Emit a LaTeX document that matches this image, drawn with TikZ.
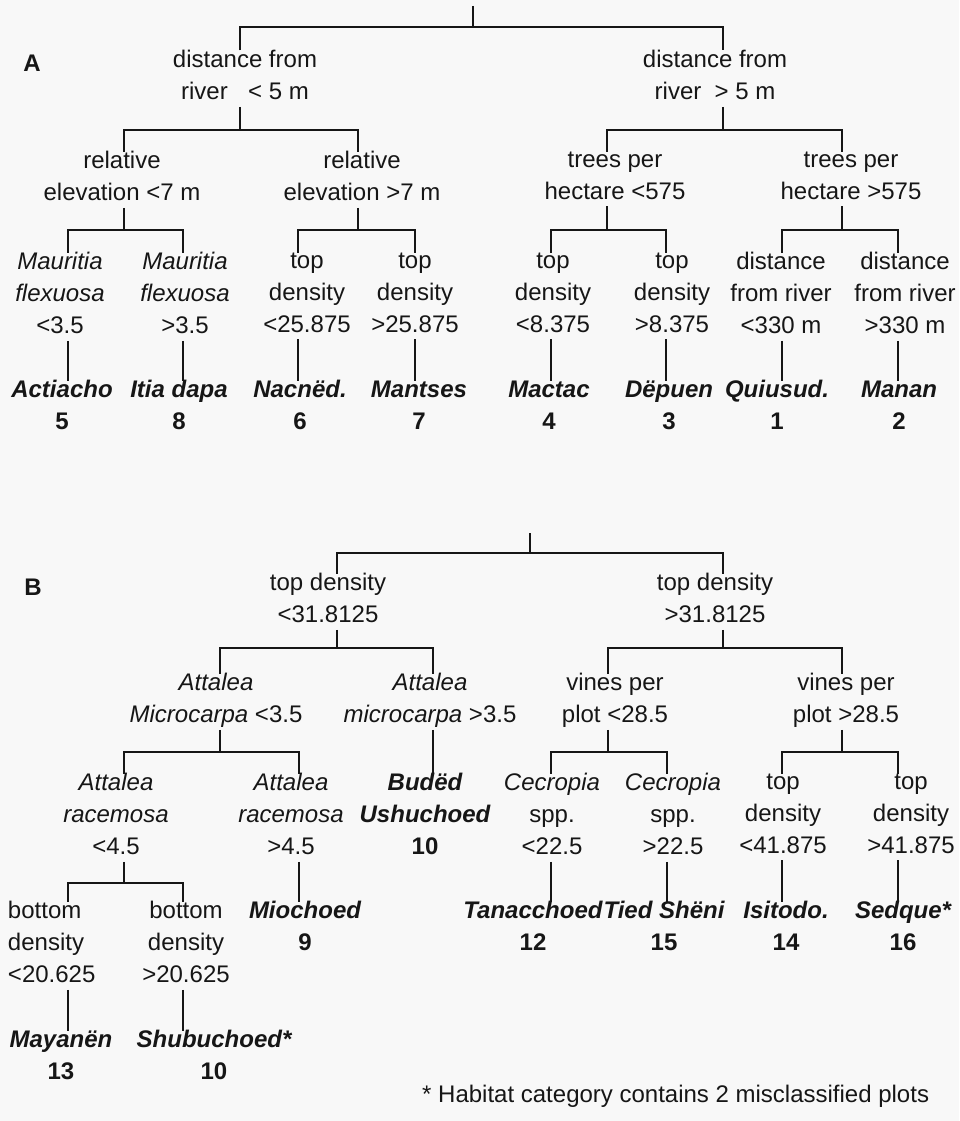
\documentclass[tikz,border=0pt]{standalone}
\usepackage{fontspec}
\setmainfont{Liberation Sans}
\definecolor{ink}{RGB}{22,22,22}
\definecolor{paper}{RGB}{248,248,248}
\newcommand\tstrut{\rule[-7pt]{0pt}{28.5pt}}
\begin{document}
\begin{tikzpicture}[x=1pt,y=-1pt,
  lab/.style={font=\fontsize{24}{32}\selectfont, text=ink, inner sep=0pt, outer sep=0pt,
    align=center, anchor=north, yshift=21.5pt,
    execute at begin node=\tstrut, execute at end node=\tstrut},
  leaf/.style={lab, font=\fontsize{24}{32}\selectfont\bfseries\itshape},
  panel/.style={lab, font=\fontsize{24}{32}\selectfont\bfseries},
  note/.style={font=\fontsize{24}{32}\selectfont, text=ink, inner sep=0pt, anchor=base west},
  wire/.style={draw=ink, line width=1.6pt},
]
\fill[paper] (0,0) rectangle (959,1121);
\useasboundingbox (0,0) rectangle (959,1121);

% ================= Tree A =================
\node[panel] (labA) at (32,72) {A};
\coordinate (rA) at (473,6);
\coordinate (jA) at (473,27);
\node[lab] (A1) at (245,72) {distance from\\river\hspace{0.85em}< 5 m};
\node[lab] (A2) at (715,72) {distance from\\river\hspace{0.55em}> 5 m};
\draw[wire] (rA) -- (jA);
\draw[wire] ([xshift=-5pt]A1.north) |- (jA) -| ([xshift=8pt]A2.north);

\coordinate (jA1) at (240,130);
\node[lab] (A11) at (122,173) {relative\\elevation <7 m};
\node[lab] (A12) at (362,173) {relative\\elevation >7 m};
\draw[wire] (A1.south -| jA1) -- (jA1);
\draw[wire] ([xshift=2pt]A11.north) |- (jA1) -| ([xshift=-4pt]A12.north);

\coordinate (jA2) at (723,130);
\node[lab] (A21) at (615,173) {trees per\\hectare <575};
\node[lab] (A22) at (851,173) {trees per\\hectare >575};
\draw[wire] (A2.south -| jA2) -- (jA2);
\draw[wire] ([xshift=-8pt]A21.north) |- (jA2) -| ([xshift=-9pt]A22.north);

\coordinate (jA11) at (124,230);
\node[lab] (A111) at (60,274) {{\itshape Mauritia}\\{\itshape flexuosa}\\<3.5};
\node[lab] (A112) at (185,274) {{\itshape Mauritia}\\{\itshape flexuosa}\\>3.5};
\draw[wire] (A11.south -| jA11) -- (jA11);
\draw[wire] ([xshift=8pt]A111.north) |- (jA11) -| ([xshift=-2pt]A112.north);

\coordinate (jA12) at (358,230);
\node[lab] (A121) at (307,274) {top\\density\\<25.875};
\node[lab] (A122) at (415,274) {top\\density\\>25.875};
\draw[wire] (A12.south -| jA12) -- (jA12);
\draw[wire] ([xshift=-9pt]A121.north) |- (jA12) -| (A122.north);

\coordinate (jA21) at (607,230);
\node[lab] (A211) at (553,274) {top\\density\\<8.375};
\node[lab] (A212) at (672,274) {top\\density\\>8.375};
\draw[wire] (A21.south -| jA21) -- (jA21);
\draw[wire] ([xshift=-2pt]A211.north) |- (jA21) -| ([xshift=-6pt]A212.north);

\coordinate (jA22) at (842,230);
\node[lab] (A221) at (781,274) {distance\\from river\\<330 m};
\node[lab] (A222) at (905,274) {distance\\from river\\>330 m};
\draw[wire] (A22.south -| jA22) -- (jA22);
\draw[wire] ([xshift=1pt]A221.north) |- (jA22) -| ([xshift=-7pt]A222.north);

% leaves A
\node[leaf] (L5) at (62,402) {Actiacho\\{\upshape 5}};
\node[leaf] (L8) at (179,402) {Itia dapa\\{\upshape 8}};
\node[leaf] (L6) at (300,402) {Nacnëd.\\{\upshape 6}};
\node[leaf] (L7) at (419,402) {Mantses\\{\upshape 7}};
\node[leaf] (L4) at (549,402) {Mactac\\{\upshape 4}};
\node[leaf] (L3) at (669,402) {Dëpuen\\{\upshape 3}};
\node[leaf] (L1) at (777,402) {Quiusud.\\{\upshape 1}};
\node[leaf] (L2) at (899,402) {Manan\\{\upshape 2}};
\draw[wire] ([xshift=8pt]A111.south) -- ([xshift=6pt]L5.north);
\draw[wire] ([xshift=-2pt]A112.south) -- ([xshift=4pt]L8.north);
\draw[wire] ([xshift=-9pt]A121.south) -- ([xshift=-2pt]L6.north);
\draw[wire] (A122.south) -- ([xshift=-4pt]L7.north);
\draw[wire] ([xshift=-2pt]A211.south) -- ([xshift=2pt]L4.north);
\draw[wire] ([xshift=-6pt]A212.south) -- ([xshift=-3pt]L3.north);
\draw[wire] ([xshift=1pt]A221.south) -- ([xshift=5pt]L1.north);
\draw[wire] ([xshift=-7pt]A222.south) -- ([xshift=-1pt]L2.north);

% ================= Tree B =================
\node[panel] (labB) at (33,595) {B};
\coordinate (rB) at (530,533);
\coordinate (jB) at (530,553);
\node[lab] (B1) at (328,595) {top density\\<31.8125};
\node[lab] (B2) at (715,595) {top density\\>31.8125};
\draw[wire] (rB) -- (jB);
\draw[wire] ([xshift=9pt]B1.north) |- (jB) -| ([xshift=8pt]B2.north);

\coordinate (jB1) at (337,648);
\node[lab] (B11) at (216,695) {{\itshape Attalea}\\{\itshape Microcarpa} <3.5};
\node[lab] (B12) at (430,695) {{\itshape Attalea}\\{\itshape microcarpa} >3.5};
\draw[wire] (B1.south -| jB1) -- (jB1);
\draw[wire] ([xshift=4pt]B11.north) |- (jB1) -| ([xshift=3pt]B12.north);

\coordinate (jB2) at (723,648);
\node[lab] (B21) at (615,695) {vines per\\plot <28.5};
\node[lab] (B22) at (846,695) {vines per\\plot >28.5};
\draw[wire] (B2.south -| jB2) -- (jB2);
\draw[wire] ([xshift=-7pt]B21.north) |- (jB2) -| ([xshift=-4pt]B22.north);

\coordinate (jB11) at (220,752);
\node[lab] (B111) at (116,795) {{\itshape Attalea}\\{\itshape racemosa}\\<4.5};
\node[lab] (B112) at (291,795) {{\itshape Attalea}\\{\itshape racemosa}\\>4.5};
\draw[wire] (B11.south -| jB11) -- (jB11);
\draw[wire] ([xshift=8pt]B111.north) |- (jB11) -| ([xshift=8pt]B112.north);

\node[leaf] (L10a) at (425,795) {Budëd\\Ushuchoed\\{\upshape 10}};
\draw[wire] ([xshift=3pt]B12.south) -- ([xshift=8pt]L10a.north);

\coordinate (jB21) at (608,752);
\node[lab] (B211) at (552,795) {{\itshape Cecropia}\\spp.\\<22.5};
\node[lab] (B212) at (673,795) {{\itshape Cecropia}\\spp.\\>22.5};
\draw[wire] (B21.south -| jB21) -- (jB21);
\draw[wire] ([xshift=-1pt]B211.north) |- (jB21) -| ([xshift=-6pt]B212.north);

\coordinate (jB22) at (842,752);
\node[lab] (B221) at (783,795) {top\\density\\<41.875};
\node[lab] (B222) at (911,795) {top\\density\\>41.875};
\draw[wire] (B22.south -| jB22) -- (jB22);
\draw[wire] ([xshift=-1pt]B221.north) |- (jB22) -| ([xshift=-13pt]B222.north);

\coordinate (jB111) at (124,883);
\coordinate (vB) at (68,902);
\node[lab, anchor=north west, align=left] (B1111) at (8,923) {bottom\\density\\<20.625};
\node[lab] (B1112) at (186,923) {bottom\\density\\>20.625};
\draw[wire] (B111.south -| jB111) -- (jB111);
\draw[wire] (vB) |- (jB111) -| ([xshift=-3pt]B1112.north);

\node[leaf] (L9) at (305,923) {Miochoed\\{\upshape 9}};
\draw[wire] ([xshift=8pt]B112.south) -- ([xshift=-6pt]L9.north);

\node[leaf] (L12) at (533,923) {Tanacchoed\\{\upshape 12}};
\node[leaf] (L15) at (664,923) {Tied Shëni\\{\upshape 15}};
\node[leaf] (L14) at (786,923) {Isitodo.\\{\upshape 14}};
\node[leaf] (L16) at (903,923) {Sedque*\\{\upshape 16}};
\draw[wire] ([xshift=-1pt]B211.south) -- ([xshift=18pt]L12.north);
\draw[wire] ([xshift=-6pt]B212.south) -- ([xshift=3pt]L15.north);
\draw[wire] ([xshift=-1pt]B221.south) -- ([xshift=-4pt]L14.north);
\draw[wire] ([xshift=-13pt]B222.south) -- ([xshift=-5pt]L16.north);

\node[leaf] (L13) at (61,1052) {Mayanën\\{\upshape 13}};
\node[leaf] (L10b) at (214,1052) {Shubuchoed*\\{\upshape 10}};
\draw[wire] (B1111.south -| vB) -- (L13.north -| vB);
\draw[wire] ([xshift=-3pt]B1112.south) -- ([xshift=-31pt]L10b.north);

\node[note] (fn) at (422,1102) {* Habitat category contains 2 misclassified plots};
\end{tikzpicture}
\end{document}
